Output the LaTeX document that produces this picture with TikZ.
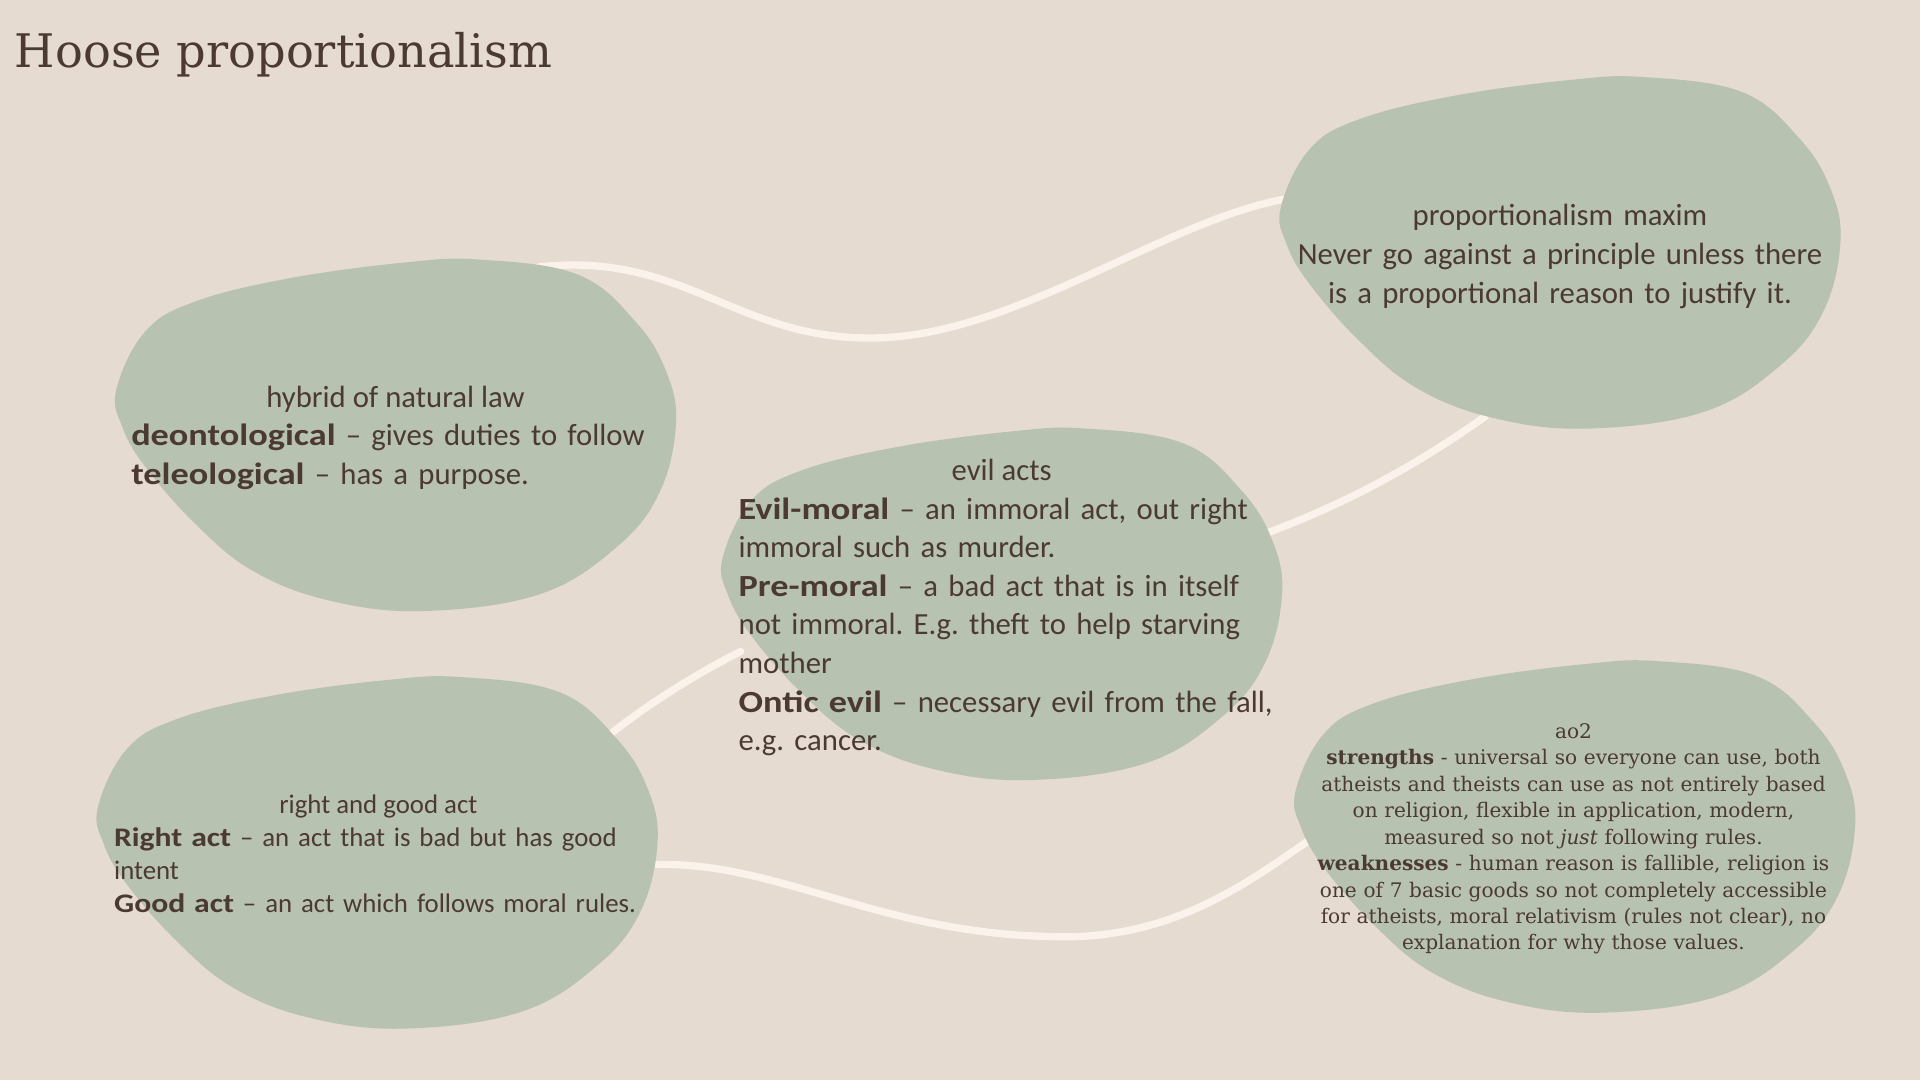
\documentclass[tikz,border=0pt]{standalone}
\usepackage{fontspec}
\setmainfont{DejaVu Serif}
\newfontfamily\blobsans{Carlito}[BoldFeatures={FakeStretch=1.18}]
\newfontfamily\slabserif{DejaVu Serif}
\frenchspacing
\definecolor{bgcol}{RGB}{230,219,208}
\definecolor{blobcol}{RGB}{184,194,176}
\definecolor{txtcol}{RGB}{75,58,50}
\definecolor{linecol}{RGB}{251,242,236}
\newcommand\myblob[2]{%
  \fill[blobcol] plot[smooth cycle, tension=0.65] coordinates {
    ({#1+0},{#2+106.2}) ({#1+23.3},{#2+59.1}) ({#1+64.0},{#2+34.4})
    ({#1+141.7},{#2+15.2}) ({#1+236.3},{#2+2.3}) ({#1+297.1},{#2+0})
    ({#1+377.0},{#2+12.3}) ({#1+424.1},{#2+50.8}) ({#1+449.2},{#2+91.8})
    ({#1+457},{#2+134.9}) ({#1+443.3},{#2+190.9}) ({#1+408.6},{#2+234.8})
    ({#1+346.0},{#2+273.2}) ({#1+251.4},{#2+287}) ({#1+173.7},{#2+278.4})
    ({#1+111.1},{#2+254.0}) ({#1+64.0},{#2+215.3}) ({#1+23.3},{#2+168.8})
    ({#1+4.6},{#2+136.0})};
}
\begin{document}
\begin{tikzpicture}[x=1pt,y=-1pt,
  conn/.style={draw=linecol, line width=6pt, line cap=round},
  sansbig/.style={font=\blobsans\fontsize{25.1}{31.5}\selectfont},
  sanssmall/.style={font=\blobsans\fontsize{21.9}{27}\selectfont},
  headtxt/.style={anchor=base, inner sep=0pt, text=txtcol},
  bodytxt/.style={anchor=base west, inner sep=0pt, align=left, text width=620pt, text=txtcol},
  centtxt/.style={anchor=base, inner sep=0pt, align=center, text width=620pt, text=txtcol},
]
\fill[bgcol] (0,0) rectangle (1568,882);
\useasboundingbox (0,0) rectangle (1568,882);

% connector end points
\coordinate (b1top) at (440,218);
\coordinate (b2left) at (1052,162);
\coordinate (b2bot) at (1213,340);
\coordinate (b3right) at (1030,437);
\coordinate (b3left) at (605,532);
\coordinate (b4top) at (494,603);
\coordinate (b4right) at (536,706);
\coordinate (b5left) at (1068,687);
\coordinate (c1mid) at (715,276);
\coordinate (c4mid) at (870,765);

\draw[conn] (b1top) .. controls (560,205) and (600,278) .. (c1mid)
            .. controls (830,274) and (950,180) .. (b2left);
\draw[conn] (b2bot) .. controls (1150,385) and (1090,415) .. (b3right);
\draw[conn] (b3left) .. controls (565,552) and (525,578) .. (b4top);
\draw[conn] (b4right) .. controls (640,704) and (720,765) .. (c4mid)
            .. controls (960,765) and (1020,720) .. (b5left);

% blobs
\myblob{95}{212}
\myblob{1046}{63}
\myblob{590}{350}
\myblob{80}{553}
\myblob{1058}{540}

% title
\node[anchor=base west, inner sep=0pt, text=txtcol, font=\slabserif\fontsize{37.8}{42}\selectfont] (title) at (12,55) {Hoose proportionalism};

% blob 1
\node[headtxt, sansbig] (b1head) at (323,332.5) {hybrid of natural law};
\node[bodytxt, sansbig] (b1body) at (107,364) {\textbf{deontological} – gives duties to follow\\\textbf{teleological} – has a purpose.};

% blob 2
\node[centtxt, sansbig] (b2text) at (1274,184.5) {proportionalism maxim\\Never go against a principle unless there\\is a proportional reason to justify it.};

% blob 3
\node[headtxt, sansbig] (b3head) at (818,392.5) {evil acts};
\node[bodytxt, sansbig] (b3body) at (603,424) {\textbf{Evil-moral} – an immoral act, out right\\immoral such as murder.\\\textbf{Pre-moral} – a bad act that is in itself\\not immoral. E.g. theft to help starving\\mother\\\textbf{Ontic evil} – necessary evil from the fall,\\e.g. cancer.};

% blob 4
\node[headtxt, sanssmall] (b4head) at (309,664.5) {right and good act};
\node[bodytxt, sanssmall] (b4body) at (93,691.5) {\textbf{Right act} – an act that is bad but has good\\intent\\\textbf{Good act} – an act which follows moral rules.};

% blob 5
\node[centtxt, font=\slabserif\fontsize{16.4}{21.6}\selectfont] (b5text) at (1285,603) {ao2\\\textbf{strengths} - universal so everyone can use, both\\atheists and theists can use as not entirely based\\on religion, flexible in application, modern,\\measured so not \textit{just} following rules.\\\textbf{weaknesses} - human reason is fallible, religion is\\one of 7 basic goods so not completely accessible\\for atheists, moral relativism (rules not clear), no\\explanation for why those values.};
\end{tikzpicture}
\end{document}
